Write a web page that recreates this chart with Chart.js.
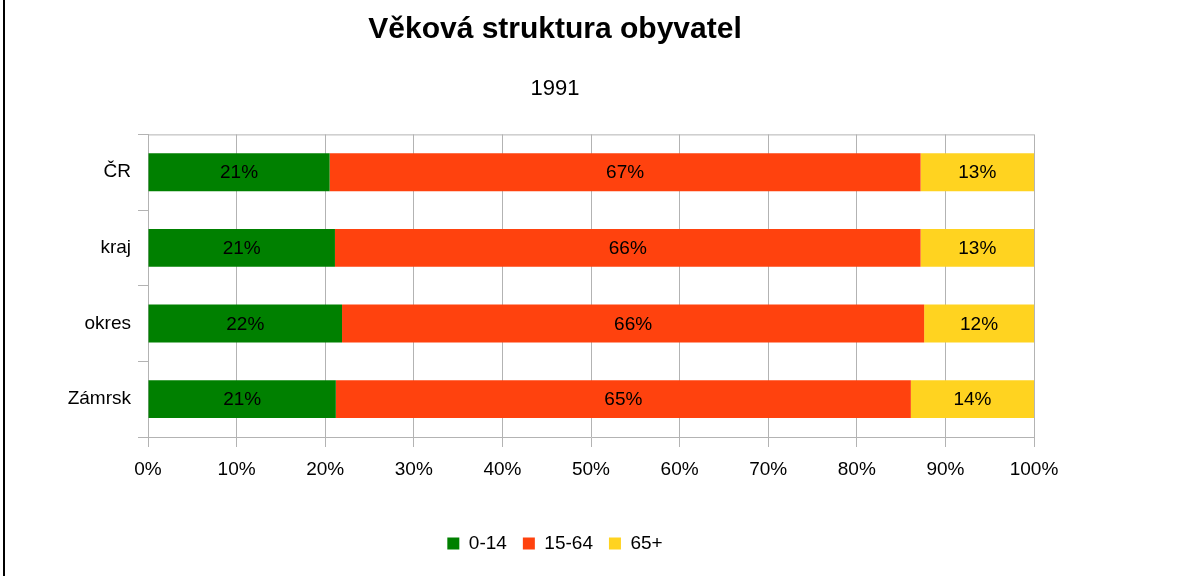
<!DOCTYPE html>
<html lang="cs">
<head>
    <meta charset="UTF-8">
    <title>Věková struktura obyvatel</title>
    <script src="https://cdn.jsdelivr.net/npm/chart.js"></script>
    <style>
        body { margin: 0; background: #fff; }
        #wrap { position: relative; width: 1192px; height: 576px; }
        #frame { position: absolute; left: 3px; top: 0; width: 2px; height: 576px; background: #000; }
        #myChart { position: absolute; left: 0; top: 0; }
    </style>
</head>
<body>
<div id="wrap">
    <div id="frame"></div>
    <canvas id="myChart" width="1188" height="576"></canvas>
</div>

<script>
    // data (percent of population)
    const places = ['ČR', 'kraj', 'okres', 'Zámrsk'];
    const young = [20.5, 21.1, 21.9, 21.2];   // 0-14
    const adults = [66.7, 66.1, 65.7, 64.9];  // 15-64
    const seniors = [12.8, 12.8, 12.4, 13.9]; // 65+
    const xTicks = [0, 10, 20, 30, 40, 50, 60, 70, 80, 90, 100];

    const font = 'Liberation Sans, Arial, sans-serif';
    const gridGray = '#b3b3b3';

    // percent labels in the middle of every bar piece
    const barLabels = {
        id: 'barLabels',
        afterDatasetsDraw(chart) {
            const ctx = chart.ctx;
            ctx.save();
            ctx.font = '19px ' + font;
            ctx.fillStyle = '#000';
            ctx.textAlign = 'center';
            ctx.textBaseline = 'middle';
            chart.data.datasets.forEach((ds, i) => {
                chart.getDatasetMeta(i).data.forEach((bar, j) => {
                    ctx.fillText(Math.round(ds.data[j]) + '%', (bar.x + bar.base) / 2, bar.y + 1);
                });
            });
            ctx.restore();
        }
    };

    // grey line along the top of the plot
    const topLine = {
        id: 'topLine',
        beforeDatasetsDraw(chart) {
            const a = chart.chartArea;
            const ctx = chart.ctx;
            ctx.save();
            ctx.strokeStyle = gridGray;
            ctx.lineWidth = 1;
            ctx.beginPath();
            ctx.moveTo(a.left, a.top + 0.5);
            ctx.lineTo(a.right, a.top + 0.5);
            ctx.stroke();
            ctx.restore();
        }
    };

    const ctx = document.getElementById('myChart').getContext('2d');

    new Chart(ctx, {
        type: 'bar',
        data: {
            labels: places,
            datasets: [
                { label: '0-14', data: young, backgroundColor: '#008000' },
                { label: '15-64', data: adults, backgroundColor: '#ff420e' },
                { label: '65+', data: seniors, backgroundColor: '#ffd320' }
            ]
        },
        options: {
            indexAxis: 'y',
            responsive: false,
            animation: false,
            categoryPercentage: 1,
            barPercentage: 0.5,
            // title and legend are centred a bit left of the plot, so the
            // y labels hang out to the left of the padded box
            layout: { padding: { left: 76, right: 154, top: 0, bottom: 13 } },
            plugins: {
                title: {
                    display: true,
                    text: 'Věková struktura obyvatel',
                    color: '#000',
                    font: { family: font, size: 30, weight: 'bold' },
                    padding: { top: 12, bottom: 13 }
                },
                subtitle: {
                    display: true,
                    text: '1991',
                    color: '#000',
                    font: { family: font, size: 22 },
                    padding: { top: 15, bottom: 32 }
                },
                legend: {
                    position: 'bottom',
                    labels: {
                        color: '#000',
                        font: { family: font, size: 19 },
                        boxWidth: 12,
                        boxHeight: 12,
                        padding: 16
                    }
                },
                tooltip: { enabled: false }
            },
            scales: {
                x: {
                    stacked: true,
                    min: 0,
                    max: 100,
                    afterBuildTicks(scale) {
                        scale.ticks = xTicks.map(v => ({ value: v }));
                    },
                    afterFit(scale) { scale.height = 81; },
                    ticks: {
                        color: '#000',
                        font: { family: font, size: 19 },
                        padding: 11,
                        maxRotation: 0,
                        callback: v => v + '%'
                    },
                    grid: { color: gridGray, tickColor: gridGray, tickLength: 10 },
                    border: { color: gridGray }
                },
                y: {
                    stacked: true,
                    afterFit(scale) {
                        scale.width = 72;
                        // let the labels run past the left edge of the box
                        scale._computeLabelArea = () => undefined;
                    },
                    ticks: {
                        color: '#000',
                        font: { family: font, size: 19 },
                        padding: 7
                    },
                    grid: {
                        offset: true,
                        drawOnChartArea: false,
                        color: gridGray,
                        tickColor: gridGray,
                        tickLength: 10
                    },
                    border: { color: gridGray }
                }
            }
        },
        plugins: [topLine, barLabels]
    });
</script>
</body>
</html>
